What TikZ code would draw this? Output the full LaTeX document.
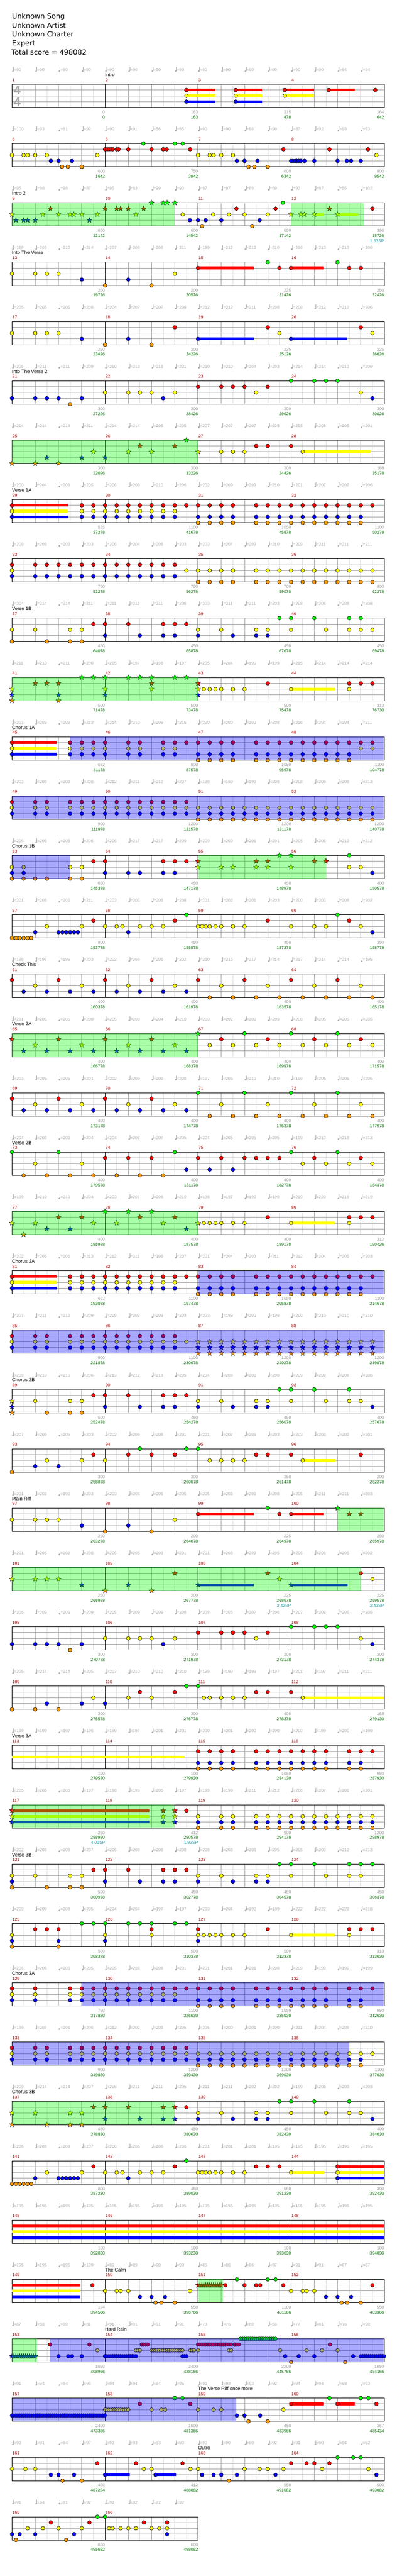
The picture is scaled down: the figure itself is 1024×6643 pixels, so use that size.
\documentclass[tikz,border=0pt]{standalone}
\usepackage{fontspec}
\setmainfont{Liberation Sans}
\newfontfamily\titlefont{DejaVu Sans}
\usetikzlibrary{shapes.geometric}

\definecolor{fretgreen}{HTML}{00FF00}
\definecolor{fretred}{HTML}{FF0000}
\definecolor{fretyellow}{HTML}{FFFF00}
\definecolor{fretblue}{HTML}{0000FF}
\definecolor{fretorange}{HTML}{FF9900}
\definecolor{gridgray}{HTML}{A0A0A0}
\definecolor{gridlight}{HTML}{DDDDDD}
\definecolor{labelgray}{HTML}{AAAAAA}
\definecolor{scoregray}{HTML}{999999}
\definecolor{totalgreen}{HTML}{006400}
\definecolor{spteal}{HTML}{009FA8}
\definecolor{measurered}{HTML}{8B0000}

\tikzset{
  lane0/.style={fill=fretgreen},
  lane1/.style={fill=fretred},
  lane2/.style={fill=fretyellow},
  lane3/.style={fill=fretblue},
  lane4/.style={fill=fretorange},
  note/.style={draw=black,line width=0.8pt},
  starnote/.style={draw=black,line width=0.6pt,star,star points=5,star point ratio=2.4,minimum size=14pt,inner sep=0pt},
  lbl/.style={inner sep=0pt,font=\fontsize{11}{13}\selectfont},
  titleline/.style={inner sep=0pt,anchor=base west,font=\titlefont\fontsize{18.2}{22}\selectfont},
}

\newcommand{\staffrow}[3]{
  \foreach \idx in {1,...,#3} {
    \draw[gridlight,line width=1pt] ({1+60*\idx},{217+153*#1}) -- ++(0,60);
    \draw[gridgray,line width=1pt] ({31+60*\idx},{217+153*#1}) -- ++(0,60);
  }
  \foreach \idx in {15,30,45}
    \draw[gridgray,line width=1pt] (31,{217+153*#1+\idx}) -- ++({60*#3},0);
  \pgfmathtruncatemacro{\nmeas}{#3/4}
  \foreach \idx in {1,...,\nmeas} {
    \pgfmathtruncatemacro{\mnum}{#2+\idx-1}
    \draw[black,line width=1pt] ({31+240*(\idx-1)},{217+153*#1}) -- ++(0,60);
    \node[lbl,anchor=base west,text=measurered] (m\mnum) at ({32+240*(\idx-1)},{210+153*#1}) {\mnum};
  }
  \draw[black,line width=1pt] (31,{217+153*#1}) rectangle ++({60*#3},60);
}
\newcommand{\tempos}[2]{
  \foreach \val [count=\idx] in {#2} {
    \fill[labelgray] ({33.2+60*(\idx-1)},{183.6+153*#1}) circle (2.2pt);
    \draw[labelgray,line width=0.9pt] ({35+60*(\idx-1)},{183.6+153*#1}) -- ++(0,-10.5);
    \node[lbl,anchor=base west,text=labelgray] (tempo#1-\idx) at ({36+60*(\idx-1)},{184+153*#1}) {=\val};
  }
}
\newcommand{\scores}[2]{
  \foreach \val [count=\idx] in {#2}
    \node[lbl,anchor=base east,text=scoregray] (score#1-\idx) at ({31+240*\idx},{293+153*#1}) {\val};
}
\newcommand{\totals}[2]{
  \foreach \val [count=\idx] in {#2}
    \node[lbl,anchor=base east,text=totalgreen] (total#1-\idx) at ({31+240*\idx},{306+153*#1}) {\val};
}
\newcommand{\spbonus}[3]{
  \node[lbl,anchor=base east,text=spteal] (sp#1-#2) at ({31+240*#2},{319+153*#1}) {#3};
}
\newcommand{\partlabel}[3]{
  \node[lbl,anchor=base west,text=black,font=\fontsize{12.4}{14}\selectfont] (part#1) at ({31+240*#2},{197+153*#1}) {#3};
}
\newcommand{\notes}[3]{
  \foreach \bt in {#3}
    \path[note,lane#2] ({31+60*\bt},{217+153*#1+15*#2}) circle (4.9pt);
}
\newcommand{\stars}[3]{
  \foreach \bt [count=\idx] in {#3}
    \node[starnote,lane#2] (star#1-#2-\idx) at ({31+60*\bt},{217+153*#1+15*#2}) {};
}
\newcommand{\sus}[4]{
  \fill[lane#2] ({31+60*#3},{213.5+153*#1+15*#2}) rectangle ({31+60*#4},{220.5+153*#1+15*#2});
}
\newcommand{\spzone}[4]{
  \fill[#4,fill opacity=0.34] ({31+60*#2},{217+153*#1}) rectangle ({31+60*#3},{277+153*#1});
}

\begin{document}
\begin{tikzpicture}[x=1pt,y=-1pt]
\useasboundingbox (0,0) rectangle (1024,6643);

\node[titleline] (song) at (31,49) {Unknown Song};
\node[titleline] (artist) at (31,72) {Unknown Artist};
\node[titleline] (charter) at (31,95) {Unknown Charter};
\node[titleline] (level) at (31,118) {Expert};
\node[titleline] (total) at (29.5,141) {Total score = 498082};

\staffrow{0}{1}{16}
\node[inner sep=0pt,text=labelgray,font=\bfseries\fontsize{33}{33}\selectfont] (sigtop) at (44.5,233) {4};
\node[inner sep=0pt,text=labelgray,font=\bfseries\fontsize{33}{33}\selectfont] (sigbot) at (44.5,263) {4};
\tempos{0}{90,90,90,90,90,90,90,90,90,90,90,90,90,90,94,94}
\partlabel{0}{1}{Intro}
\scores{0}{0,163,315,164}
\totals{0}{0,163,478,642}
\sus{0}{1}{7.5}{8.73}\sus{0}{2}{7.5}{8.73}\sus{0}{3}{7.5}{8.73}
\sus{0}{1}{9.62}{10.75}\sus{0}{2}{9.62}{10.75}\sus{0}{3}{9.62}{10.75}
\sus{0}{1}{11.73}{12.98}\sus{0}{2}{11.73}{12.98}
\sus{0}{1}{13.62}{14.73}
\notes{0}{1}{7.5,9.62,11.73,13.62,15.62}
\notes{0}{2}{7.5,9.62,11.73}
\notes{0}{3}{7.5,9.62}

\staffrow{1}{5}{16}
\tempos{1}{100,93,91,92,90,91,96,85,90,90,88,99,87,92,93,93}
\scores{1}{600,750,600,800}
\totals{1}{1642,3942,6342,9542}
\notes{1}{0}{5.65,7,7.34}
\notes{1}{1}{4,4.09,4.17,4.25,4.33,4.5,4.58,5,6,6.5,6.65,7.66,11.67,13.65,15.31}
\notes{1}{2}{0,0.5,0.67,1,1.5,3.67,8,8.5,8.67,9,9.5,15.67}
\notes{1}{3}{1.67,2,2.58,9.67,10,10.56,12,12.08,12.17,12.25,12.33,12.42,12.58,13,14,14.4,14.58,15}
\notes{1}{4}{2.15,2.4,3,10.17,10.42,11}

\staffrow{2}{9}{16}
\tempos{2}{95,88,98,87,95,83,99,93,87,87,89,89,93,87,85,102}
\partlabel{2}{0}{Intro 2}
\scores{2}{650,600,650,396}
\totals{2}{12142,14542,17142,18726}
\spbonus{2}{4}{1.33SP}
\sus{2}{2}{13}{13.41}\sus{2}{2}{14}{14.89}
\stars{2}{2}{0,1.33,2,2.5,2.66,3,3.67,5.33,12,12.42,12.57,13,14}
\stars{2}{1}{1.65,4,4.5,4.67,5,5.66,13.65}
\stars{2}{3}{0.17,0.5,0.67,1,3.33}
\stars{2}{0}{6,6.5,6.67,7}
\notes{2}{2}{7.34,8.65,9.33,10,11}
\notes{2}{3}{7.65,8,8.33,9,10.65}
\notes{2}{1}{9.65,11.33,15.5}
\notes{2}{0}{11.65}
\notes{2}{4}{8.17,10.33}
\spzone{2}{0}{7}{fretgreen}
\spzone{2}{12}{15.14}{fretgreen}

\staffrow{3}{13}{16}
\tempos{3}{198,205,210,214,207,206,208,211,199,212,212,210,216,213,213,206}
\partlabel{3}{0}{Into The Verse}
\scores{3}{250,200,225,250}
\totals{3}{19726,20526,21426,22426}
\sus{3}{1}{8}{10.4}\sus{3}{1}{12}{13.4}
\notes{3}{2}{0,1,1.5,2,7}
\notes{3}{3}{3,5}
\notes{3}{4}{4,6}
\notes{3}{1}{8,11.5,12,14.5,15}
\notes{3}{0}{11,14}

\staffrow{4}{17}{16}
\tempos{4}{205,205,205,208,204,207,207,208,212,212,211,208,208,212,212,206}
\scores{4}{250,200,225,225}
\totals{4}{23426,24226,25126,26026}
\sus{4}{3}{8}{10.4}\sus{4}{3}{12}{14.4}
\notes{4}{2}{0,1,1.5,2,11.5,15.5}
\notes{4}{3}{3,5,8,12}
\notes{4}{4}{4,6}
\notes{4}{1}{7,11,15}

\staffrow{5}{21}{16}
\tempos{5}{205,211,211,209,210,218,218,221,210,210,204,203,214,214,213,209}
\partlabel{5}{0}{Into The Verse 2}
\scores{5}{300,300,300,300}
\totals{5}{27226,28426,29626,30826}
\notes{5}{3}{0,1,1.5,2,3,6.5,15.5}
\notes{5}{4}{2.5}
\notes{5}{2}{4,5,5.5,6,7,10.5,15}
\notes{5}{1}{8,9,9.5,10,11}
\notes{5}{0}{12,13,13.5,14}

\staffrow{6}{25}{16}
\tempos{6}{214,214,214,211,214,214,205,205,207,207,207,205,205,208,205,201}
\scores{6}{300,300,300,188}
\totals{6}{32026,33226,34426,35178}
\sus{6}{2}{12.5}{15.42}
\stars{6}{4}{0,1,2}
\stars{6}{3}{1.5,3,4}
\stars{6}{2}{3.5,5,6,8}
\stars{6}{1}{5.5,7}
\stars{6}{0}{7.5}
\notes{6}{2}{9,9.5,10,12.5}
\notes{6}{1}{10.5,11,12}
\spzone{6}{0}{8}{fretgreen}

\staffrow{7}{29}{16}
\tempos{7}{200,204,208,205,206,206,210,206,202,209,209,210,201,207,207,206}
\partlabel{7}{0}{Verse 1A}
\scores{7}{525,1100,1050,1100}
\totals{7}{37278,41678,45878,50278}
\sus{7}{1}{0}{2.4}\sus{7}{2}{0}{2.4}\sus{7}{3}{0}{2.4}
\notes{7}{1}{0,3,3.5,...,9.5,10.5,11,...,15.5}
\notes{7}{2}{0,3,3.5,...,7}
\notes{7}{3}{0,3,3.5,...,7,8,8.5,9,9.5,10.5,11,...,15}
\notes{7}{4}{8,8.5,9,9.5,10.5,11,...,15}

\staffrow{8}{33}{16}
\tempos{8}{208,208,203,203,206,204,208,203,203,204,209,210,209,211,211,211}
\scores{8}{750,750,700,800}
\totals{8}{53278,56278,59078,62278}
\notes{8}{1}{0,1,1.5,...,7}
\notes{8}{3}{0,1,1.5,...,7}
\notes{8}{2}{0,7.5,8,8.5,9,9.5,10.5,11,...,15.5}
\notes{8}{4}{8,8.5,9,9.5,10.5,11,...,15.5}

\staffrow{9}{37}{16}
\tempos{9}{204,214,214,211,211,211,211,206,203,211,211,203,208,208,208,208}
\partlabel{9}{0}{Verse 1B}
\scores{9}{450,450,450,450}
\totals{9}{64078,65878,67678,69478}
\notes{9}{2}{0,1,2.5,3,8,9,10.5,11,12,13.5,14.5,15,15.5}
\notes{9}{4}{0,1.5,2.5,3}
\notes{9}{1}{3.5,4,5,6.5,7,7.5}
\notes{9}{3}{4,5.5,6.5,7,8,9.5,10.5,11}
\notes{9}{0}{11.5,12,13,14.5,15}

\staffrow{10}{41}{16}
\tempos{10}{211,210,211,200,205,197,198,197,205,204,199,199,215,214,214,214}
\scores{10}{500,500,500,313}
\totals{10}{71478,73478,75478,76730}
\sus{10}{2}{12}{13.9}
\stars{10}{2}{0,4,6,8}
\stars{10}{3}{0,2,4,8}
\stars{10}{4}{0,2}
\stars{10}{1}{1,1.5,2,6,8}
\stars{10}{0}{3,3.5,4,5,5.5,6,7,7.5}
\notes{10}{2}{8.25,8.5,8.75,9,9.5,10,12,14.5}
\notes{10}{1}{11,14.5,15,15.5}
\spzone{10}{0}{8}{fretgreen}

\staffrow{11}{45}{16}
\tempos{11}{203,202,202,213,214,210,209,215,200,200,200,208,216,204,204,211}
\partlabel{11}{0}{Chorus 1A}
\scores{11}{662,800,1050,1100}
\totals{11}{81178,87578,95978,104778}
\sus{11}{1}{0}{1.93}\sus{11}{2}{0}{1.93}\sus{11}{3}{0}{1.93}
\notes{11}{1}{0,2.5,3,3.5,4,5,5.5,6.5,7,7.5,8,8.5,9,9.5,10.5,11,...,15.5}
\notes{11}{2}{0,2.5,3,3.5,4,5,5.5,6.5,7,15,15.5}
\notes{11}{3}{0,2.5,3,3.5,4,5,5.5,6.5,7,8,8.5,9,9.5,10.5,11,...,14.5}
\notes{11}{4}{8,8.5,9,9.5,10.5,11,...,14.5}
\spzone{11}{2.5}{16}{fretblue}

\staffrow{12}{49}{16}
\tempos{12}{203,203,203,208,212,211,212,207,198,199,199,208,208,208,208,213}
\scores{12}{900,1200,1200,1200}
\totals{12}{111978,121578,131178,140778}
\notes{12}{1}{0,1,1.5,2.5,3,...,7.5}
\notes{12}{2}{0,1,1.5,2.5,3,...,15.5}
\notes{12}{3}{0,1,1.5,2.5,3,...,15.5}
\notes{12}{4}{8,8.5,...,15.5}
\spzone{12}{0}{16}{fretblue}

\staffrow{13}{53}{16}
\tempos{13}{205,206,205,206,206,217,217,209,209,209,201,201,205,208,212,212}
\partlabel{13}{0}{Chorus 1B}
\scores{13}{650,450,450,400}
\totals{13}{145378,147178,148978,150578}
\notes{13}{2}{0,0.5,2.5,3,14.5,15}
\notes{13}{3}{0,0.5,4,5,5.5,6.5,7,15.5}
\notes{13}{4}{0,0.5,1,1.5,2.5,3}
\notes{13}{1}{3.5,4,6.5,7,7.5}
\stars{13}{1}{8,10.5,11,13,13.5}
\stars{13}{2}{8,9,9.5,10.5,11,12}
\stars{13}{0}{11.5,12}
\notes{13}{0}{14.5}
\spzone{13}{0}{2.5}{fretblue}
\spzone{13}{8}{13.5}{fretgreen}

\staffrow{14}{57}{16}
\tempos{14}{201,206,206,211,203,203,203,208,201,202,201,203,200,203,208,202}
\scores{14}{800,450,450,350}
\totals{14}{153778,155578,157378,158778}
\notes{14}{4}{0,0.17,0.33,0.5,0.67,0.83}
\notes{14}{3}{1,2,2.17,2.33,2.5,2.67,2.83,5,15.5}
\notes{14}{2}{1.5,3,4,4.5,4.75,5.5,6,6.5,8,8.17,8.33,8.5,8.75,9,9.5,10,12,13,13.5,15}
\notes{14}{1}{3.5,7,11,14.5}
\notes{14}{0}{7.5,14}

\staffrow{15}{61}{16}
\tempos{15}{198,197,199,203,202,208,206,202,210,215,217,214,217,214,214,195}
\partlabel{15}{0}{Check This}
\scores{15}{400,400,400,400}
\totals{15}{160378,161978,163578,165178}
\notes{15}{1}{0,2,...,14}
\notes{15}{2}{1,3,...,15}
\notes{15}{3}{0.5,1.5,...,7.5}
\notes{15}{4}{8.5,9.5,...,15.5}

\staffrow{16}{65}{16}
\tempos{16}{201,205,205,208,205,208,204,210,203,202,208,209,208,205,205,205}
\partlabel{16}{0}{Verse 2A}
\scores{16}{400,400,400,400}
\totals{16}{166778,168378,169978,171578}
\stars{16}{1}{0,2,4,6}
\stars{16}{2}{1,3,5,7}
\stars{16}{3}{0.5,1.5,...,7.5}
\stars{16}{0}{8}
\notes{16}{1}{9,11,13,15}
\notes{16}{2}{8.5,9.5,...,15.5}
\notes{16}{0}{10,12,14}
\spzone{16}{0}{8}{fretgreen}

\staffrow{17}{69}{16}
\tempos{17}{203,205,205,201,202,209,202,208,197,206,210,210,199,205,205,205}
\scores{17}{400,400,400,400}
\totals{17}{173178,174778,176378,177978}
\notes{17}{1}{0,2,4,6}
\notes{17}{2}{1,3,...,15}
\notes{17}{3}{0.5,1.5,...,7.5}
\notes{17}{4}{8.5,9.5,...,15.5}
\notes{17}{0}{8,10,12,14}

\staffrow{18}{73}{16}
\tempos{18}{204,203,203,204,204,207,207,205,204,205,205,205,199,213,218,213}
\partlabel{18}{0}{Verse 2B}
\scores{18}{400,400,400,400}
\totals{18}{179578,181178,182778,184378}
\notes{18}{0}{0,2,7,12,14}
\notes{18}{2}{1,3,12.5,13.5,14.5,15.5}
\notes{18}{4}{0.5,1.5,...,6.5}
\notes{18}{1}{4,5,6,8,9,10,10.5,11,11.5,13,15}
\notes{18}{3}{7.5,8.5,9.5}

\staffrow{19}{77}{16}
\tempos{19}{199,210,210,204,203,207,208,210,198,197,199,199,219,220,219,219}
\scores{19}{400,400,400,312}
\totals{19}{185978,187578,189178,190426}
\sus{19}{2}{12}{13.88}
\stars{19}{2}{0,1,3.5,4.5,6.5,8}
\stars{19}{4}{0.5}
\stars{19}{3}{1.5,2.5,7.5}
\stars{19}{1}{2,3,5.5,7}
\stars{19}{0}{4,5,6}
\notes{19}{2}{8.25,8.5,8.75,9,9.5,10,12,14.5}
\notes{19}{1}{11,14.5,15,15.5}
\spzone{19}{0}{8}{fretgreen}

\staffrow{20}{81}{16}
\tempos{20}{202,205,205,213,212,211,199,207,201,204,203,211,212,204,205,203}
\partlabel{20}{0}{Chorus 2A}
\scores{20}{663,1100,1050,1100}
\totals{20}{193078,197478,205878,214678}
\sus{20}{1}{0}{1.92}\sus{20}{2}{0}{1.92}\sus{20}{3}{0}{1.92}
\notes{20}{1}{0,2.5,3,...,9.5,10.5,11,...,15.5}
\notes{20}{2}{0,2.5,3,...,7}
\notes{20}{3}{0,2.5,3,...,7,8,8.5,9,9.5,10.5,11,...,15}
\notes{20}{4}{8,8.5,9,9.5,10.5,11,...,15}
\spzone{20}{8}{16}{fretblue}

\staffrow{21}{85}{16}
\tempos{21}{203,211,212,209,209,203,203,203,203,199,200,199,200,210,210,210}
\scores{21}{900,1100,1200,1200}
\totals{21}{221878,230678,240278,249878}
\notes{21}{1}{0,1,1.5,2.5,3,...,7}
\notes{21}{2}{0,1,1.5,2.5,3,...,7.5}
\notes{21}{3}{0,1,1.5,2.5,3,...,7}
\stars{21}{2}{8,8.5,...,15.5}
\stars{21}{3}{8,8.5,...,15.5}
\stars{21}{4}{8,8.5,...,15.5}
\spzone{21}{0}{16}{fretblue}

\staffrow{22}{89}{16}
\tempos{22}{209,210,210,206,213,212,213,205,204,208,208,208,209,209,208,206}
\partlabel{22}{0}{Chorus 2B}
\scores{22}{500,450,450,400}
\totals{22}{252478,254278,256078,257678}
\stars{22}{2}{0}
\stars{22}{3}{0}
\stars{22}{4}{0}
\notes{22}{2}{1,2.5,3,8,9,10.5,11,12,13.5,14.5,15}
\notes{22}{4}{1.5,2.5,3}
\notes{22}{1}{3.5,4,5,6.5,7,7.5}
\notes{22}{3}{4,5.5,6.5,7,8,9.5,10.5,11,15.5}
\notes{22}{0}{11.5,12,13,14.5}

\staffrow{23}{93}{16}
\tempos{23}{207,209,209,203,202,209,208,201,201,207,208,203,203,203,202,201}
\scores{23}{300,300,350,200}
\totals{23}{258878,260078,261478,262278}
\sus{23}{2}{12.5}{13.93}
\notes{23}{4}{0}
\notes{23}{3}{1,2}
\notes{23}{2}{1.5,3,4,8.5,9,9.5,10,12.5}
\notes{23}{1}{3.5,5,6,7,10.5,11,12,15}
\notes{23}{0}{5.5,7.5,8}

\staffrow{24}{97}{16}
\tempos{24}{201,203,199,203,203,204,205,205,205,206,206,208,205,211,211,203}
\partlabel{24}{0}{Main Riff}
\scores{24}{250,200,225,250}
\totals{24}{263278,264078,264978,265978}
\sus{24}{1}{8}{10.4}\sus{24}{1}{12}{13.4}
\notes{24}{2}{0,1,1.5,2,7}
\notes{24}{3}{3,5}
\notes{24}{4}{4,6}
\notes{24}{1}{8,11.5,12}
\notes{24}{0}{11}
\stars{24}{0}{14}
\stars{24}{1}{14.5,15}
\spzone{24}{14}{16}{fretgreen}

\staffrow{25}{101}{16}
\tempos{25}{201,205,202,208,206,205,203,201,201,208,209,205,206,208,205,202}
\scores{25}{250,200,225,225}
\totals{25}{266978,267778,268678,269578}
\spbonus{25}{3}{2.42SP}
\spbonus{25}{4}{2.43SP}
\sus{25}{3}{8}{10.4}\sus{25}{3}{12}{14.42}
\stars{25}{2}{0,1,1.5,2,11.5}
\stars{25}{3}{3,5,8,12}
\stars{25}{4}{4,6}
\stars{25}{1}{7,11}
\notes{25}{1}{15}
\notes{25}{2}{15.5}
\spzone{25}{0}{15}{fretgreen}

\staffrow{26}{105}{16}
\tempos{26}{205,209,209,209,205,209,209,208,208,206,207,206,207,208,205,205}
\scores{26}{300,300,300,300}
\totals{26}{270778,271978,273178,274378}
\notes{26}{3}{0,1,1.5,2,3,6.5,15.5}
\notes{26}{4}{2.5}
\notes{26}{2}{4,5,5.5,6,7,10.5,15}
\notes{26}{1}{8,9,9.5,10,11}
\notes{26}{0}{12,13,13.5,14}

\staffrow{27}{109}{16}
\tempos{27}{205,214,214,205,207,210,210,210,199,199,199,197,201,197,211,211}
\scores{27}{300,300,400,188}
\totals{27}{275578,276778,278378,279130}
\sus{27}{2}{12.5}{16}
\notes{27}{4}{0,1,2}
\notes{27}{3}{1.5,3,4}
\notes{27}{2}{3.5,5,6,8.25,8.5,9,9.5,10,12.5}
\notes{27}{1}{5.5,7,10.5,11,12}
\notes{27}{0}{7.5,8}

\staffrow{28}{113}{16}
\tempos{28}{199,199,197,196,199,197,201,201,200,201,200,200,200,199,200,199}
\partlabel{28}{0}{Verse 3A}
\scores{28}{100,100,1050,950}
\totals{28}{279530,279930,284130,287930}
\sus{28}{2}{0}{7.42}
\notes{28}{1}{8,8.5,9,9.5,10.5,11,...,13.5,14.5,15,15.5}
\notes{28}{3}{8,8.5,9,9.5,10.5,11,...,13.5,14.5,15}
\notes{28}{4}{8,8.5,9,9.5,10.5,11,...,13.5,14.5,15}

\staffrow{29}{117}{16}
\tempos{29}{205,205,205,197,198,199,205,197,199,199,211,212,206,207,201,201}
\scores{29}{250,412,900,1200}
\totals{29}{288930,290578,294178,298978}
\spbonus{29}{1}{4.00SP}
\spbonus{29}{2}{1.93SP}
\sus{29}{1}{0}{5.91}\sus{29}{2}{0}{5.91}\sus{29}{3}{0}{5.91}
\stars{29}{1}{0,6.5,7}
\stars{29}{2}{0,6.5,7}
\stars{29}{3}{0,6.5,7}
\notes{29}{1}{7.5}
\notes{29}{2}{8,9,9.5,10.5,11,...,15.5}
\notes{29}{3}{8,9,9.5,10.5,11,...,15.5}
\notes{29}{4}{8,9,9.5,10.5,11,...,15.5}
\spzone{29}{0}{7}{fretgreen}

\staffrow{30}{121}{16}
\tempos{30}{202,208,208,207,206,208,208,208,208,208,208,205,205,203,212,213}
\partlabel{30}{0}{Verse 3B}
\scores{30}{500,450,450,450}
\totals{30}{300978,302778,304578,306378}
\notes{30}{2}{0,1,2.5,3,8,9,10.5,11,12,13.5,14.5,15}
\notes{30}{3}{0,4,5.5,6.5,7,8,9.5,10.5,11}
\notes{30}{4}{0,1.5,2.5,3}
\notes{30}{1}{3.5,4,5,6.5,7,7.5}
\notes{30}{0}{11.5,12,13,14.5,15,15.5}

\staffrow{31}{125}{16}
\tempos{31}{209,209,208,205,204,204,197,197,203,204,199,189,222,222,222,218}
\scores{31}{500,500,500,313}
\totals{31}{308378,310378,312378,313630}
\sus{31}{2}{12}{13.88}
\notes{31}{2}{0,4,6,8,8.25,8.5,8.75,9,9.5,10,12,14.5}
\notes{31}{3}{0,2,4,8}
\notes{31}{4}{0,2}
\notes{31}{1}{1,1.5,2,6,8,11,14.5,15,15.5}
\notes{31}{0}{3,3.5,4,5,5.5,6,7,7.5}

\staffrow{32}{129}{16}
\tempos{32}{206,206,205,205,205,208,208,201,201,201,201,208,209,199,199,199}
\partlabel{32}{0}{Chorus 3A}
\scores{32}{750,1100,1050,950}
\totals{32}{317830,326630,335030,342630}
\notes{32}{1}{0,1,2.5,3,...,9.5,10.5,11,...,13.5,14.5,15,15.5}
\notes{32}{2}{0,1,2.5,3,...,7}
\notes{32}{3}{0,1,2.5,3,...,7,8,8.5,9,9.5,10.5,11,...,13.5,14.5,15}
\notes{32}{4}{8,8.5,9,9.5,10.5,11,...,13.5,14.5,15}
\spzone{32}{3}{16}{fretblue}

\staffrow{33}{133}{16}
\tempos{33}{199,207,206,206,212,202,203,205,205,200,201,200,211,204,209,210}
\scores{33}{900,1200,1200,1100}
\totals{33}{349830,359430,369030,377030}
\notes{33}{1}{0,1,1.5,2.5,3,...,7.5}
\notes{33}{2}{0,1,1.5,2.5,3,...,15.5}
\notes{33}{3}{0,1,1.5,2.5,3,...,15}
\notes{33}{4}{8,8.5,...,15}
\spzone{33}{0}{14.5}{fretblue}

\staffrow{34}{137}{16}
\tempos{34}{209,214,214,207,206,211,211,205,211,211,202,202,199,206,203,203}
\partlabel{34}{0}{Chorus 3B}
\scores{34}{450,450,450,400}
\totals{34}{378830,380630,382430,384030}
\stars{34}{2}{0,1,2.5,3}
\stars{34}{4}{0,1.5,2.5,3}
\stars{34}{1}{3.5,4,5,6.5,7}
\stars{34}{3}{4,5.5,6.5,7}
\notes{34}{1}{7.5}
\notes{34}{2}{8,9,10.5,11,12,13.5,14.5,15}
\notes{34}{3}{8,9.5,10.5,11,15.5}
\notes{34}{0}{11.5,12,13,14.5}
\spzone{34}{0}{7}{fretgreen}

\staffrow{35}{141}{16}
\tempos{35}{206,208,209,207,206,206,206,206,201,201,201,195,195,195,195,195}
\scores{35}{800,450,550,300}
\totals{35}{387230,389030,391230,392430}
\sus{35}{2}{12}{13.44}
\sus{35}{1}{14}{16}\sus{35}{2}{14}{16}\sus{35}{3}{14}{16}
\notes{35}{4}{0,0.17,0.33,0.5,0.67,0.83}
\notes{35}{3}{1,2,2.17,2.33,2.5,2.67,2.83,5,14}
\notes{35}{2}{1.5,3,4,4.5,4.75,5.5,6,6.5,8,8.17,8.33,8.5,8.75,9,9.5,10,12,14}
\notes{35}{1}{3.5,7,10.5,11,11.5,14}
\notes{35}{0}{7.5}

\staffrow{36}{145}{16}
\tempos{36}{195,195,195,195,195,195,195,195,195,195,195,195,195,195,195,195}
\scores{36}{100,100,100,100}
\totals{36}{392830,393230,393630,394030}
\sus{36}{1}{0}{16}\sus{36}{2}{0}{16}\sus{36}{3}{0}{16}

\staffrow{37}{149}{16}
\tempos{37}{195,195,195,139,89,89,90,90,86,86,86,87,91,91,87,87}
\partlabel{37}{1}{The Calm}
\scores{37}{134,550,1100,550}
\totals{37}{394566,396766,401166,403366}
\sus{37}{1}{0}{2.94}\sus{37}{2}{0}{2.94}\sus{37}{3}{0}{2.94}
\stars{37}{1}{8,8.083,...,9}
\notes{37}{1}{3.46,9.17,10,10.5,10.67,11.67,15.5}
\notes{37}{0}{9.67,11,11.33}
\notes{37}{2}{4,4.5,4.67,5,7.65,12,12.5,12.67,13}
\notes{37}{3}{5.5,6,6.58,13.5,14,14.58}
\notes{37}{4}{6.17,6.42,7,14.17,14.42,15}
\spzone{37}{8}{9.07}{fretgreen}

\staffrow{38}{153}{16}
\tempos{38}{87,88,90,81,91,91,91,91,73,76,80,56,77,81,76,90}
\partlabel{38}{1}{Hard Rain}
\scores{38}{1050,2400,2200,1050}
\totals{38}{408966,428166,445766,454166}
\stars{38}{3}{0,0.083,...,1}
\notes{38}{1}{1.64,3.33,5.58,5.67,5.75,5.83,8,8.083,...,9.42,9.58,9.67,9.75,13.67}
\notes{38}{2}{3.67,5.33,5.42,5.5,6,6.083,...,7.33,7.67,7.75,7.83,8,9.33,9.42,11.53,12.67,13.33,14}
\notes{38}{3}{2,2.42,2.58,3,4,4.083,...,5.33,7.33,7.42,7.5,11.75,12.33,13,14.67,15,15.083,...,16}
\notes{38}{0}{9.83,9.913,...,11.33}
\notes{38}{4}{12,14.33}
\spzone{38}{0}{1.08}{fretgreen}
\spzone{38}{1.64}{16}{fretblue}

\staffrow{39}{157}{16}
\tempos{39}{91,94,94,96,94,94,94,95,91,92,93,92,94,94,93,93}
\partlabel{39}{2}{The Verse Riff once more}
\scores{39}{2400,1000,450,367}
\totals{39}{473366,481366,483966,485434}
\sus{39}{1}{12}{13.4}\sus{39}{1}{14}{14.73}
\notes{39}{3}{0,0.083,...,4,9.67,10,10.67}
\notes{39}{2}{4,4.083,...,5,6,6.42,6.58,8,8.67,9,11.67}
\notes{39}{1}{5.5,7.67,12,14,15.67}
\notes{39}{0}{7,7.33,13.65,15,15.33}
\notes{39}{4}{10.17,11}
\spzone{39}{0}{9.65}{fretblue}

\staffrow{40}{161}{16}
\tempos{40}{93,91,94,97,93,93,93,93,90,90,90,92,91,90,94,92}
\partlabel{40}{2}{Outro}
\scores{40}{450,412,550,500}
\totals{40}{487234,488882,491082,493082}
\sus{40}{3}{4}{5.06}\sus{40}{3}{6.17}{7.06}
\notes{40}{2}{0,0.58,1,5.67,6,7.67,8,10,10.65,11,11.67,13.33,15.33}
\notes{40}{1}{3.67,5.33,7.33,12,12.67,13,13.65}
\notes{40}{3}{1.67,2,2.67,4,6.17,8.17,8.67,9,9.67,11.33,15.67}
\notes{40}{4}{2.17,3,9.33}
\notes{40}{0}{14,14.67,15}

\staffrow{41}{165}{8}
\tempos{41}{91,94,91,92,92,92,92,92}
\scores{41}{650,600}
\totals{41}{495682,498082}
\notes{41}{3}{0,0.33,1,2.67,6.67}
\notes{41}{4}{0.17,2.33}
\notes{41}{2}{0.67,1.33,2,3,4.17,4.33,4.67,5,5.33,6,6.33,6.67}
\notes{41}{1}{1.67,3.33,5.67,6.67}
\notes{41}{0}{3.67,4}

\end{tikzpicture}
\end{document}
